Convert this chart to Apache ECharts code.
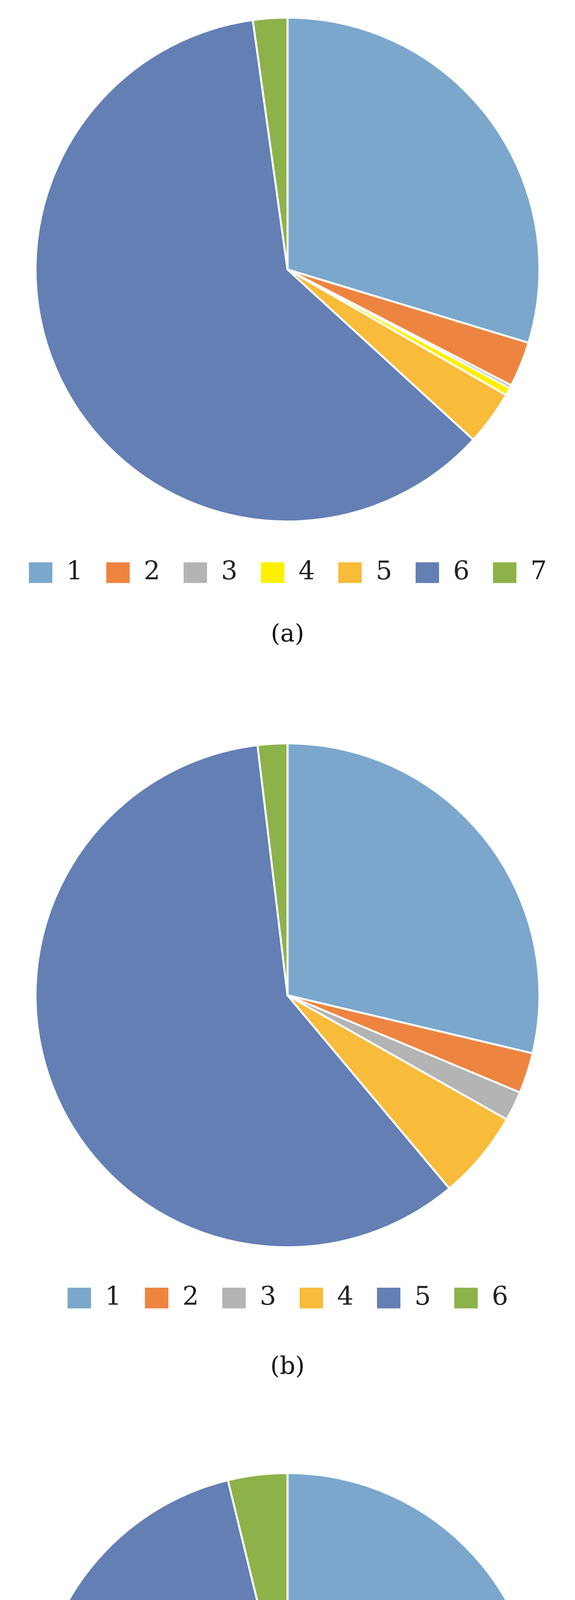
<!DOCTYPE html>
<html><head><meta charset="utf-8">
<script src="https://cdn.jsdelivr.net/npm/echarts@6/dist/echarts.min.js"></script>
<style>body{margin:0;background:#fff}.c{width:1472px;height:1837px}</style>
</head><body>
<div id="a" class="c"></div><div id="b" class="c"></div><div id="c" class="c"></div>
<script>
const namesA = ['1','2','3','4','5','6','7'];
const valuesA = [29.7, 2.9, 0.2, 0.5, 3.5, 61.0, 2.2];
const colorsA = ['#7BA7CC','#ED8540','#B4B4B4','#FFF000','#F8BB3A','#637FB4','#8DB24A'];
const namesB = ['1','2','3','4','5','6'];
const valuesB = [28.7, 2.6, 1.9, 5.7, 59.2, 1.9];
const namesC = ['1','2','3','4','5','6'];
const valuesC = [37.7, 3.4, 3.3, 5.8, 46.0, 3.8];
const colorsBC = ['#7BA7CC','#ED8540','#B4B4B4','#F8BB3A','#637FB4','#8DB24A'];

function draw(id, names, values, colors, cy, ly, cap, capY){
  const ch = echarts.init(document.getElementById(id));
  ch.setOption({
    animation:false,
    legend:{data:names, top:ly-30, left:'center', itemWidth:62, itemHeight:55, itemGap:58,
      icon:'rect', textStyle:{fontFamily:'DejaVu Serif', fontSize:66, color:'#222', padding:[0,0,0,30]}},
    title:{text:cap, left:'center', top:capY-40, textStyle:{fontFamily:'DejaVu Serif', fontSize:62, fontWeight:'normal', color:'#111'}},
    series:[{type:'pie', center:[736,cy], radius:645, startAngle:90, clockwise:true,
      label:{show:false}, labelLine:{show:false}, emphasis:{disabled:true},
      itemStyle:{borderColor:'#fff', borderWidth:5},
      data:names.map((n,i)=>({name:n, value:values[i], itemStyle:{color:colors[i]}}))}]
  });
}
draw('a', namesA, valuesA, colorsA, 690, 1458, '(a)', 1630);
draw('b', namesB, valuesB, colorsBC, 711, 1478, '(b)', 1668);
draw('c', namesC, valuesC, colorsBC, 742, 1502, '(c)', 1688);
</script></body></html>
